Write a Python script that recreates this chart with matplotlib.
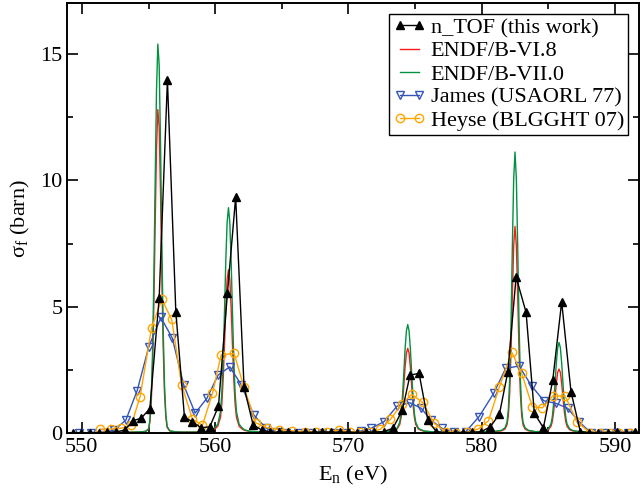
import matplotlib
matplotlib.use("Agg")
import matplotlib.pyplot as plt
from matplotlib.ticker import MultipleLocator

plt.rcParams['font.family'] = ['Liberation Serif', 'DejaVu Serif']
plt.rcParams['mathtext.fontset'] = 'custom'
plt.rcParams['mathtext.rm'] = 'Liberation Serif'

# evaluated cross sections (shared energy grid, eV / barn)
e_eval = [549.0, 551.0, 553.0, 554.0, 554.5, 554.8, 555.0, 555.1, 555.2, 555.3,
          555.4, 555.5, 555.6, 555.7, 555.8, 555.9, 556.0, 556.1, 556.2, 556.3,
          556.4, 556.6, 557.0, 557.5, 558.5, 559.3, 559.8, 560.0, 560.2, 560.4,
          560.5, 560.6, 560.7, 560.8, 560.9, 561.0, 561.1, 561.2, 561.3, 561.4,
          561.5, 561.6, 561.8, 562.0, 562.2, 562.6, 563.5, 566.0, 570.0, 572.5,
          573.2, 573.45, 573.65, 573.85, 573.95, 574.05, 574.15, 574.25, 574.35, 574.45,
          574.55, 574.65, 574.75, 574.85, 574.95, 575.05, 575.25, 575.45, 575.7, 576.5,
          578.0, 580.0, 581.0, 581.5, 581.75, 581.9, 582.0, 582.1, 582.2, 582.3,
          582.4, 582.5, 582.6, 582.7, 582.8, 582.9, 583.0, 583.1, 583.25, 583.5,
          584.0, 584.6, 584.8, 585.0, 585.2, 585.3, 585.4, 585.5, 585.6, 585.7,
          585.8, 585.9, 586.0, 586.1, 586.2, 586.3, 586.4, 586.6, 586.8, 587.0,
          587.5, 588.5, 592.0]
endf7 = [0.02, 0.03, 0.04, 0.05, 0.06, 0.08, 0.18, 0.50, 1.34, 3.11,
         6.07, 9.94, 13.54, 15.39, 14.57, 11.49, 7.55, 4.15, 1.91, 0.76,
         0.27, 0.10, 0.06, 0.05, 0.05, 0.07, 0.14, 0.23, 0.36, 0.85,
         1.57, 2.90, 4.78, 6.83, 8.35, 8.92, 8.35, 6.83, 4.78, 2.90,
         1.57, 0.85, 0.36, 0.23, 0.14, 0.08, 0.05, 0.04, 0.04, 0.05,
         0.09, 0.14, 0.20, 0.44, 0.78, 1.43, 2.33, 3.32, 4.05, 4.30,
         4.05, 3.32, 2.33, 1.43, 0.78, 0.44, 0.20, 0.14, 0.09, 0.05,
         0.04, 0.05, 0.08, 0.12, 0.22, 0.44, 0.94, 2.16, 4.39, 7.39,
         10.06, 11.12, 10.06, 7.39, 4.39, 2.16, 0.94, 0.44, 0.22, 0.12,
         0.07, 0.07, 0.12, 0.18, 0.37, 0.66, 1.20, 1.95, 2.78, 3.39,
         3.59, 3.39, 2.78, 1.95, 1.20, 0.66, 0.37, 0.18, 0.12, 0.09,
         0.06, 0.04, 0.03]
endf6 = [0.02, 0.03, 0.04, 0.05, 0.06, 0.08, 0.16, 0.43, 1.13, 2.60,
         5.05, 8.27, 11.26, 12.80, 12.12, 9.56, 6.28, 3.45, 1.60, 0.64,
         0.23, 0.09, 0.06, 0.05, 0.05, 0.06, 0.12, 0.18, 0.28, 0.63,
         1.15, 2.12, 3.48, 4.97, 6.07, 6.47, 6.07, 4.97, 3.48, 2.12,
         1.15, 0.63, 0.28, 0.18, 0.12, 0.07, 0.05, 0.04, 0.04, 0.05,
         0.08, 0.12, 0.17, 0.35, 0.62, 1.13, 1.83, 2.60, 3.17, 3.36,
         3.17, 2.60, 1.83, 1.13, 0.62, 0.35, 0.17, 0.12, 0.08, 0.05,
         0.04, 0.05, 0.07, 0.10, 0.17, 0.34, 0.70, 1.60, 3.24, 5.45,
         7.41, 8.18, 7.41, 5.45, 3.24, 1.60, 0.70, 0.34, 0.17, 0.10,
         0.06, 0.07, 0.10, 0.14, 0.28, 0.48, 0.86, 1.40, 1.98, 2.41,
         2.54, 2.41, 1.98, 1.40, 0.86, 0.48, 0.28, 0.14, 0.10, 0.08,
         0.06, 0.04, 0.03]

# n_TOF measurement
e_ntof = [549.3, 549.95, 550.6, 551.25, 551.9, 552.55, 553.2, 553.85, 554.45, 555.1,
          555.8, 556.42, 557.05, 557.7, 558.3, 558.95, 559.6, 560.25, 560.92, 561.54,
          562.17, 562.85, 563.5, 564.15, 564.8, 565.45, 566.1, 566.75, 567.4, 568.05,
          568.7, 569.35, 570.0, 570.65, 571.3, 571.95, 572.65, 573.34, 574.05, 574.62,
          575.3, 575.96, 576.6, 577.3, 578.0, 578.6, 579.3, 579.96, 580.65, 581.33,
          581.96, 582.58, 583.33, 583.95, 584.63, 585.33, 586.0, 586.7, 587.4, 588.05,
          588.75, 589.45, 590.15, 590.8, 591.5]
s_ntof = [0.02, 0.03, 0.02, 0.03, 0.04, 0.05, 0.13, 0.50, 0.60, 0.97,
          5.35, 13.97, 4.80, 0.63, 0.46, 0.22, 0.26, 1.07, 5.53, 9.34,
          1.82, 0.33, 0.13, 0.05, 0.04, 0.06, 0.03, 0.05, 0.04, 0.06,
          0.05, 0.04, 0.05, 0.03, 0.06, 0.05, 0.07, 0.20, 0.92, 2.30,
          2.37, 0.52, 0.06, 0.03, 0.02, 0.03, 0.04, 0.06, 0.26, 0.76,
          2.43, 6.18, 4.78, 0.79, 0.22, 2.10, 5.20, 1.64, 0.07, 0.02,
          0.03, 0.03, 0.04, 0.03, 0.05]

# James (USAORL 77)
e_james = [549.8, 550.7, 551.55, 552.43, 553.3, 554.15, 555.02, 555.93, 556.78, 557.65,
           558.5, 559.38, 560.22, 561.1, 561.97, 562.9, 563.84, 564.6, 565.3, 566.2,
           567.1, 568.0, 568.9, 569.8, 570.96, 571.7, 572.67, 573.66, 574.6, 575.46,
           576.2, 577.0, 577.9, 578.8, 579.8, 580.9, 581.8, 582.8, 583.75, 584.65,
           585.6, 586.45, 587.3, 588.2, 589.15, 590.1, 591.0]
s_james = [0.0, 0.0, 0.02, 0.13, 0.52, 1.69, 3.42, 4.58, 3.77, 1.90,
           0.80, 1.38, 2.30, 2.63, 1.91, 0.72, 0.20, 0.06, 0.02, 0.02,
           0.0, 0.03, 0.0, 0.02, 0.09, 0.20, 0.46, 1.08, 1.21, 0.99,
           0.52, 0.20, 0.06, 0.06, 0.66, 1.58, 2.57, 2.66, 1.87, 1.29,
           1.18, 0.99, 0.46, 0.02, 0.0, 0.0, 0.0]

# Heyse (BLGGHT 07)
e_heyse = [551.37, 552.2, 552.95, 553.7, 554.37, 555.23, 556.0, 556.74, 557.48, 558.3,
           559.05, 559.8, 560.45, 561.42, 562.17, 563.04, 563.9, 564.8, 565.8, 566.77,
           567.6, 568.4, 569.26, 570.1, 570.9, 571.65, 572.4, 573.15, 574.0, 574.75,
           575.57, 576.44, 577.3, 578.1, 578.9, 579.75, 580.5, 581.33, 582.26, 583.0,
           583.8, 584.56, 585.33, 586.25, 587.15, 588.1, 588.9, 589.6, 590.3, 591.1]
s_heyse = [0.16, 0.17, 0.20, 0.31, 1.45, 4.17, 5.30, 4.50, 1.93, 0.56,
           0.32, 1.58, 3.10, 3.16, 1.82, 0.42, 0.22, 0.15, 0.10, 0.06,
           0.04, 0.05, 0.13, 0.05, 0.06, 0.05, 0.16, 0.55, 1.16, 1.54,
           1.22, 0.39, 0.06, 0.02, 0.04, 0.17, 0.49, 1.84, 3.20, 2.37,
           1.05, 1.01, 1.48, 1.48, 0.46, 0.03, 0.0, 0.02, 0.0, 0.02]

fig = plt.figure(figsize=(6.4, 4.95), dpi=100)
ax = fig.add_axes([0.105, 0.1246, 0.8934, 0.8687])

l6, = ax.plot(e_eval, endf6, color='#ff1a1a', lw=1.0, label='ENDF/B-VI.8')
l7, = ax.plot(e_eval, endf7, color='#00923f', lw=1.0, label='ENDF/B-VII.0')
lj, = ax.plot(e_james, s_james, color='#3355bb', lw=1.0, marker='v', ms=5.5,
              mfc='none', mec='#3355bb', mew=1.0, label='James (USAORL 77)')
lh, = ax.plot(e_heyse, s_heyse, color='#ffa500', lw=1.0, marker='o', ms=6,
              mfc='none', mec='#ffa500', mew=1.0, label='Heyse (BLGGHT 07)')
ln, = ax.plot(e_ntof, s_ntof, color='black', lw=1.0, marker='^', ms=5.5,
              label='n_TOF (this work)')

ax.set_xlim(548.9, 591.8)
ax.set_ylim(0, 17)
ax.xaxis.set_major_locator(MultipleLocator(10))
ax.xaxis.set_minor_locator(MultipleLocator(5))
ax.yaxis.set_major_locator(MultipleLocator(5))
ax.yaxis.set_minor_locator(MultipleLocator(2.5))
ax.tick_params(which='both', direction='in', top=True, right=True,
               labelsize=16, width=1.2)
ax.tick_params(which='major', length=8)
ax.tick_params(which='minor', length=4)
for sp in ax.spines.values():
    sp.set_linewidth(1.4)

ax.set_xlabel('E$_\\mathrm{n}$ (eV)', fontsize=16, labelpad=5)
ax.set_ylabel('σ$_\\mathrm{f}$ (barn)', fontsize=16, labelpad=6)

leg = ax.legend(handles=[ln, l6, l7, lj, lh], loc='upper right',
                bbox_to_anchor=(0.981, 0.976), fontsize=16, numpoints=2,
                handlelength=1.45, handletextpad=0.25, labelspacing=0.12,
                borderpad=0.18, borderaxespad=0, fancybox=False, framealpha=1)
leg.get_frame().set_edgecolor('black')
leg.get_frame().set_linewidth(1.0)

fig.savefig('out.png', dpi=100)
